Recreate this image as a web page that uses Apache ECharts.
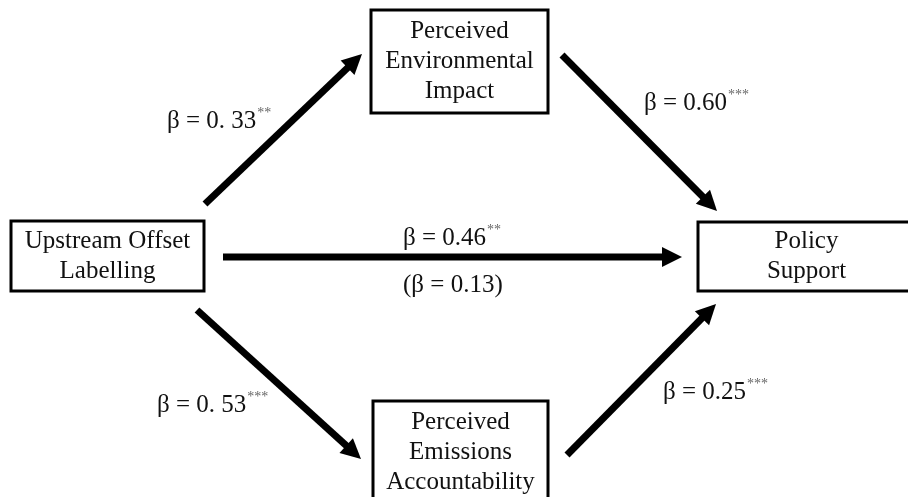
<!DOCTYPE html>
<html>
<head>
<meta charset="utf-8">
<script src="https://cdn.jsdelivr.net/npm/echarts@6/dist/echarts.min.js"></script>
<style>
html,body{margin:0;padding:0;background:#fff;}
#chart{width:908px;height:497px;}
</style>
</head>
<body>
<div id="chart"></div>
<script>
// ---- data ----
const nodeNames = ['Upstream Offset\nLabelling', 'Perceived\nEnvironmental\nImpact', 'Policy\nSupport', 'Perceived\nEmissions\nAccountability'];
const pathFrom = [0, 1, 0, 0, 3];
const pathTo = [1, 2, 2, 3, 2];
const betaValues = ['0. 33', '0.60', '0.46', '0. 53', '0.25'];
const betaStars = ['**', '***', '**', '***', '***'];
const indirectBeta = ['0.13'];

// ---- layout (diagram geometry, pixel-like units on hidden axes) ----
const boxLayout = [
  [11, 221, 193, 70],
  [371, 10, 177, 103],
  [698, 222, 217, 69],
  [373, 401, 175, 102]
];
const arrowLayout = [
  [205, 204, 362, 54],
  [562, 55, 717, 211],
  [223, 257, 682, 257],
  [197, 310, 361, 459],
  [567, 455, 716, 304]
];
const labelLayout = [
  [167, 121],
  [644, 103],
  [403, 238],
  [157, 405],
  [663, 392]
];
const indirectLabelLayout = [[403, 285]];

const FONT = '"Liberation Serif", "Times New Roman", serif';
const TXT = '#111111';

const chart = echarts.init(document.getElementById('chart'), null, {renderer: 'canvas'});

const boxData = nodeNames.map((n, i) => [boxLayout[i][0], boxLayout[i][1], boxLayout[i][2], boxLayout[i][3], n]);
const arrowData = pathFrom.map((f, i) => arrowLayout[i].concat([f, pathTo[i]]));
const labelData = betaValues.map((v, i) => ({value: labelLayout[i], name: '{m|β = ' + v + '}{s|' + betaStars[i] + '}'}));
const indirectData = indirectBeta.map((v, i) => ({value: indirectLabelLayout[i], name: '{m|(β = ' + v + ')}'}));

const option = {
  animation: false,
  backgroundColor: '#ffffff',
  grid: {left: 0, right: 0, top: 0, bottom: 0},
  xAxis: {type: 'value', min: 0, max: 908, show: false},
  yAxis: {type: 'value', min: 0, max: 497, inverse: true, show: false},
  series: [
    {
      type: 'custom',
      clip: false,
      data: boxData,
      renderItem: function (params, api) {
        const x = api.value(0), y = api.value(1), w = api.value(2), h = api.value(3);
        const p1 = api.coord([x, y]);
        const p2 = api.coord([x + w, y + h]);
        const name = boxData[params.dataIndex][4];
        return {
          type: 'group',
          children: [
            {
              type: 'rect',
              shape: {x: p1[0], y: p1[1], width: p2[0] - p1[0], height: p2[1] - p1[1]},
              style: {fill: '#fff', stroke: '#000', lineWidth: 3}
            },
            {
              type: 'text',
              x: (p1[0] + p2[0]) / 2,
              y: (p1[1] + p2[1]) / 2,
              style: {
                text: name,
                font: '25px ' + FONT,
                fill: TXT,
                lineHeight: 30,
                align: 'center',
                verticalAlign: 'middle'
              }
            }
          ]
        };
      }
    },
    {
      type: 'custom',
      clip: false,
      data: arrowData,
      renderItem: function (params, api) {
        const a = api.coord([api.value(0), api.value(1)]);
        const b = api.coord([api.value(2), api.value(3)]);
        const dx = b[0] - a[0], dy = b[1] - a[1];
        const len = Math.sqrt(dx * dx + dy * dy);
        const ux = dx / len, uy = dy / len;
        const headLen = 20, headHalf = 10;
        const bx = b[0] - ux * headLen, by = b[1] - uy * headLen;
        const nx = -uy, ny = ux;
        return {
          type: 'group',
          children: [
            {
              type: 'line',
              shape: {x1: a[0], y1: a[1], x2: bx + ux * 2, y2: by + uy * 2},
              style: {stroke: '#000', lineWidth: 7}
            },
            {
              type: 'polygon',
              shape: {points: [[b[0], b[1]], [bx + nx * headHalf, by + ny * headHalf], [bx - nx * headHalf, by - ny * headHalf]]},
              style: {fill: '#000'}
            }
          ]
        };
      }
    },
    {
      type: 'scatter',
      symbolSize: 0,
      itemStyle: {opacity: 1},
      data: labelData.concat(indirectData),
      label: {
        show: true,
        position: 'right',
        distance: 0,
        color: TXT,
        opacity: 1,
        formatter: function (p) { return p.name; },
        rich: {
          m: {fontFamily: FONT, fontSize: 25, color: TXT, lineHeight: 30},
          s: {fontFamily: FONT, fontSize: 14, color: '#666666', lineHeight: 30, verticalAlign: 'top', padding: [0, 0, 0, 1]}
        }
      }
    }
  ]
};
chart.setOption(option);
</script>
</body>
</html>
